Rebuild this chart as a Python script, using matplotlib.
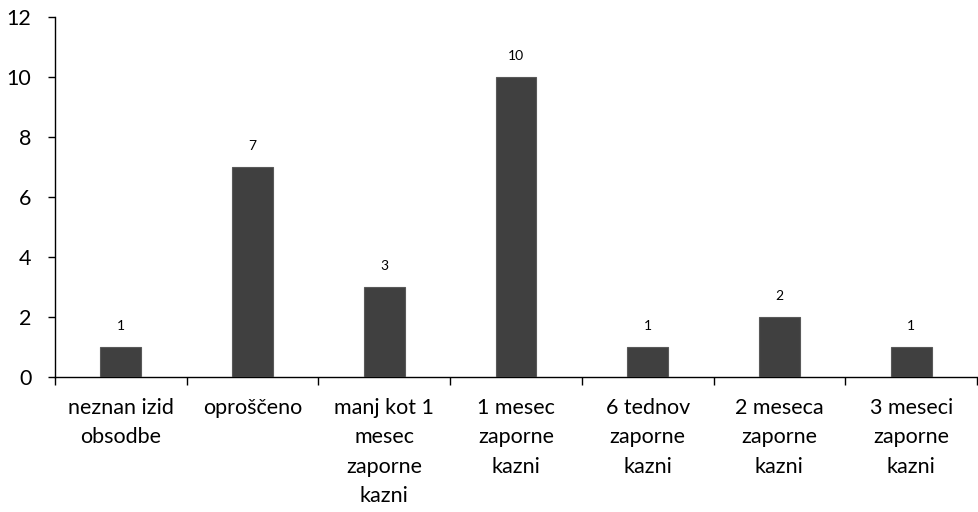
import matplotlib
matplotlib.use("Agg")
import matplotlib.pyplot as plt
import numpy as np

categories = ["neznan izid\nobsodbe", "oproščeno", "manj kot 1\nmesec\nzaporne\nkazni",
              "1 mesec\nzaporne\nkazni", "6 tednov\nzaporne\nkazni", "2 meseca\nzaporne\nkazni",
              "3 meseci\nzaporne\nkazni"]
values = [1, 7, 3, 10, 1, 2, 1]
yticks = [0, 2, 4, 6, 8, 10, 12]

plt.rcParams['font.family'] = ['Lato', 'DejaVu Sans']

fig = plt.figure(figsize=(9.79, 5.12), dpi=100)
ax = fig.add_axes([55/979, (512-377)/512, (977-55)/979, 360/512])

x = np.arange(len(values))
bars = ax.bar(x, values, width=0.31, color="#404040", edgecolor="#595959", linewidth=0.8, zorder=3)
for xi, v in zip(x, values):
    ax.annotate(str(v), (xi, v), xytext=(0, 15), textcoords="offset points",
                ha="center", va="center", fontsize=10, color="#000000")

ax.set_xlim(-0.5, len(values) - 0.5)
ax.set_ylim(0, 12)
ax.set_yticks(yticks)
ax.set_yticklabels([str(t) for t in yticks], fontsize=15.5)
ax.set_xticks(x)
ax.set_xticklabels(categories, fontsize=15.5, linespacing=1.59, va="top")
ax.set_xticks(np.arange(len(values) + 1) - 0.5, minor=True)
ax.tick_params(axis="x", which="major", length=0, pad=15)
ax.tick_params(axis="x", which="minor", length=6, width=1, direction="out")
ax.tick_params(axis="y", length=5, width=1, direction="out", pad=12)
for s in ["top", "right"]:
    ax.spines[s].set_visible(False)
for s in ["left", "bottom"]:
    ax.spines[s].set_linewidth(1)
    ax.spines[s].set_color("#000000")

fig.savefig("out.png", dpi=100)
